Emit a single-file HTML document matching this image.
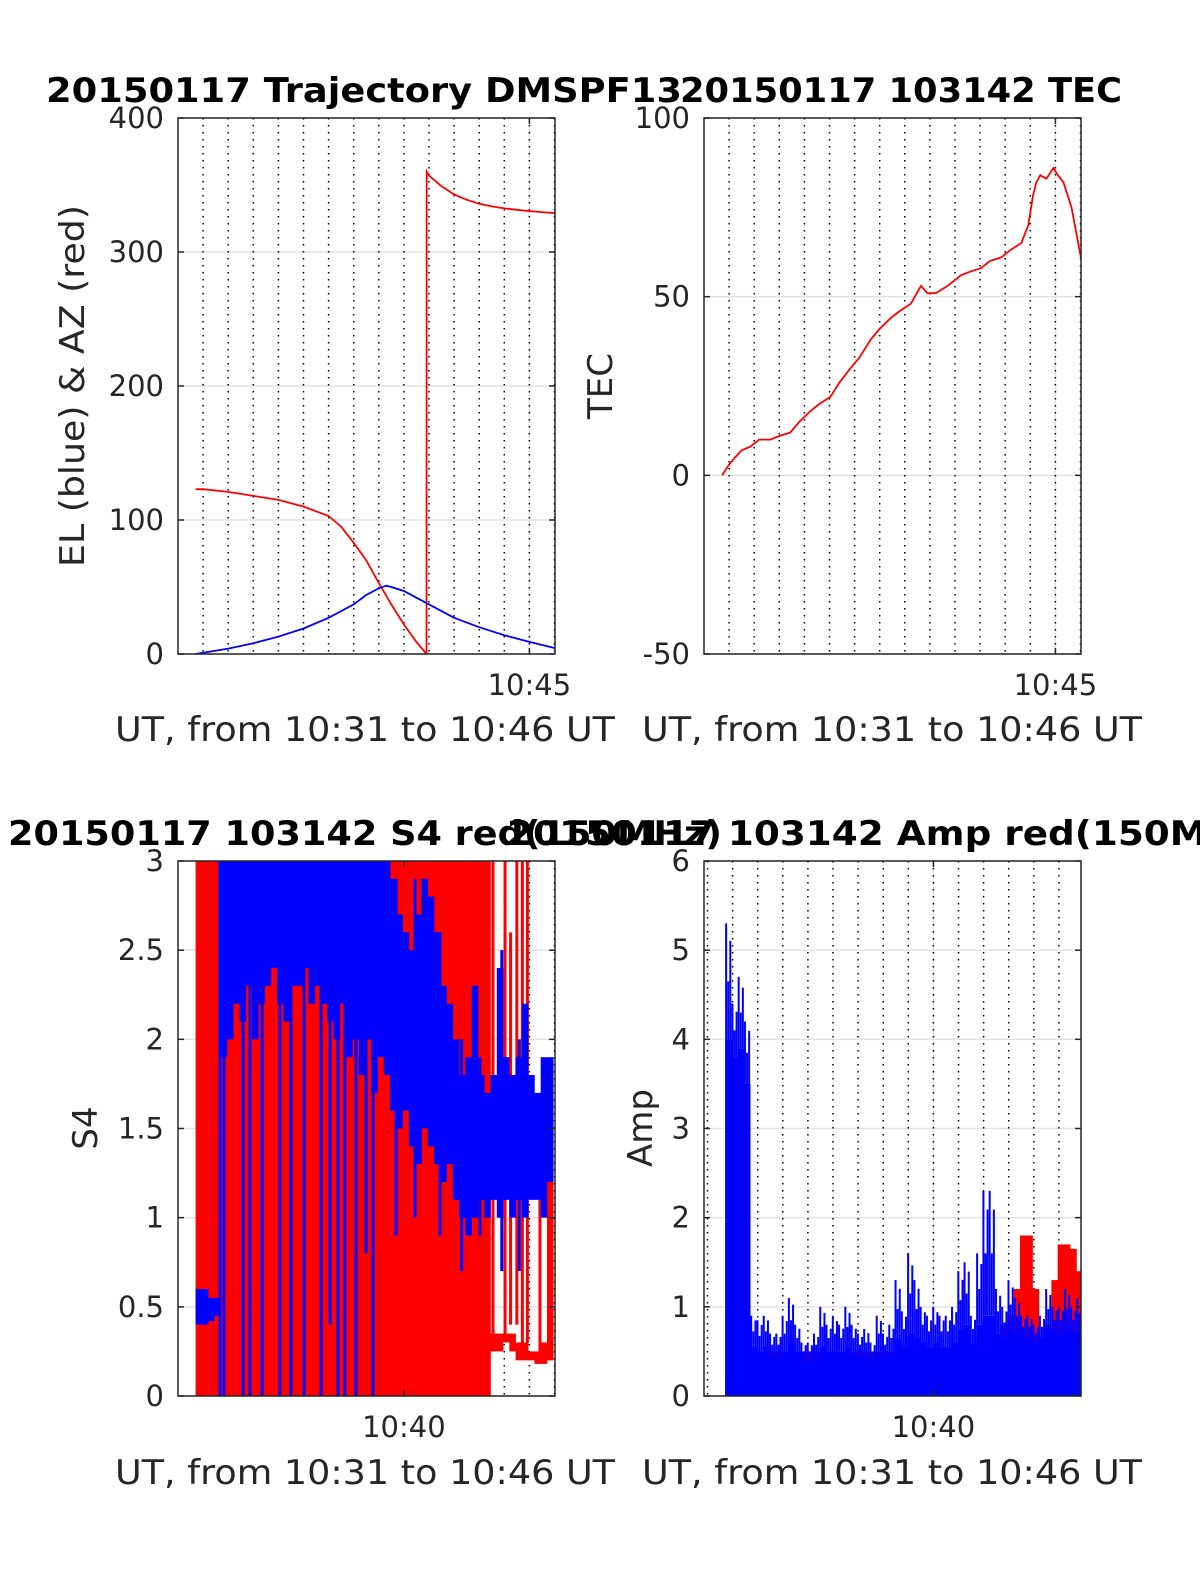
<!DOCTYPE html>
<html>
<head>
<meta charset="utf-8">
<style>
html,body{margin:0;padding:0;background:#fff;}
svg{display:block;font-family:"DejaVu Sans","Liberation Sans",sans-serif;}
</style>
</head>
<body>
<svg id="fig" width="1200" height="1575" viewBox="0 0 1200 1575" xmlns="http://www.w3.org/2000/svg">
<rect x="0" y="0" width="1200" height="1575" fill="#fff"/>
</svg>
<script>
// ---- Trajectory data (minutes after 10:00) ----
const azTimes = [31.7,32,33,34,35,36,37,37.5,38,38.5,39,39.5,40,40.5,40.9,40.91,41,41.5,42,42.5,43,43.5,44,44.5,45,46];
const azValues = [123,123,121,118,115,110,103,95,83,70,53,37,22,9,0,360,357,349,343,339,336,334,332.5,331.5,330.5,329];
const elTimes = [31.7,33,34,35,36,37,38,38.5,39,39.3,39.5,40,40.5,41,41.5,42,43,44,45,46];
const elValues = [0,4,8,13,19,27,37,44,49,51,50,47,42,37,32,27,20,14,9,4.5];
// ---- TEC ----
const tecTimes = [31.72,32.0,32.24,32.5,32.84,33.2,33.64,34.0,34.44,34.8,35.24,35.6,36.04,36.4,36.84,37.2,37.64,38.0,38.44,38.8,39.24,39.64,39.9,40.24,40.7,41.24,41.6,42.04,42.4,42.84,43.2,43.64,43.92,44.1,44.24,44.4,44.64,44.92,45.1,45.32,45.64,46.04];
const tecValues = [0,3,5,7,8,10,10,11,12,15,18,20,22,26,30,33,38,41,44,46,48,53,51,51,53,56,57,58,60,61,63,65,70,78,82,84,83,86,84,82,75,60];
// ---- S4 / Amp binned envelopes (bin start t0, width dt) ----
const binStart = 31.7;
const binWidth = 0.25;
const s4RedMax = [3,3,3,3,3,3,3,3,3,3,3,3,3,3,3,3,3,3,3,3,3,3,3,3,3,3,3,3,3,3,3,3,3,3,3,3,3,3,3,3,3,3,3,3,3,3,3,0.35,0.35,0.35,0.35,0.3,0.3,0.25,0.25,0.3,1.6];
const s4RedMin = [0,0,0,0,0,0,0,0,0,0,0,0,0,0,0,0,0,0,0,0,0,0,0,0,0,0,0,0,0,0,0,0,0,0,0,0,0,0,0,0,0,0,0,0,0,0,0,0.25,0.25,0.3,0.25,0.2,0.2,0.2,0.18,0.18,0.2];
const s4BlueMax = [0.6,0.6,0.55,0.55,3,3,3,3,3,3,3,3,3,3,3,3,3,3,3,3,3,3,3,3,3,3,3,3,3,3,3,2.9,2.7,2.6,2.5,2.7,2.9,2.8,2.6,2.3,2.2,2.0,1.8,1.9,2.3,1.8,1.7,1.8,2.4,1.9,1.8,1.9,2.2,1.8,1.7,1.9,1.9];
const s4BlueMin = [0.4,0.4,0.42,0.45,1.9,2.0,2.2,2.1,2.3,2.0,2.2,2.3,2.4,2.2,2.1,2.3,2.3,2.4,2.2,2.3,2.2,2.1,2.0,2.2,1.9,2.0,1.8,2.0,1.7,1.9,1.8,1.6,1.5,1.6,1.4,1.3,1.5,1.4,1.3,1.2,1.3,1.1,1.0,0.9,1.0,1.1,1.0,1.1,1.0,1.1,1.0,1.1,1.0,1.1,1.1,1.0,1.2];
// individual spikes: time, low, high
const s4RedSpikeT = [43.55,44.03,44.25,44.5,44.72,44.92,45.42,45.8];
const s4RedSpikeLo = [0.3,0.3,0.4,0.4,0.3,0.3,0.2,0.2];
const s4RedSpikeHi = [3,3,2.6,3,3,3,1.4,1.7];
const s4BlueSpikeT = [32.67,32.83,33.59,33.87,34.35,35.06,35.5,36.02,36.7,37.06,37.37,37.65,38.09,38.49,38.77,39.69,40.44,41.44,42.3,43.03,43.9,44.6];
const s4BlueSpikeLo = [0,0,0,0,0,0,0,0,0,0.4,0,0,0,0.8,0,0.9,1.0,0.9,0.7,0.9,0.7,0.7];
const s4BlueSpikeHi = [3,3,3,3,3,3,3,3,3,3,3,3,3,3,3,2.9,2.9,2.6,2.0,1.9,2.5,2.0];
const ampBlueMax = [5.3,4.4,4.7,4.2,0.9,0.85,0.9,0.7,0.7,0.9,1.1,0.8,0.6,0.6,0.7,1.0,0.8,0.9,0.8,1.0,0.8,0.7,0.75,0.6,0.9,0.7,0.8,1.3,0.95,1.6,1.3,1.0,0.9,1.0,0.9,0.9,1.0,1.4,1.5,0.9,1.6,2.3,2.3,1.2,1.0,1.3,1.1,0.9,0.9,0.8,0.9,1.2,1.0,1.0,1.2,1.0,1.1];
const ampBlueMin = [0,0,0,0,0,0,0,0,0,0,0,0,0,0,0,0,0,0,0,0,0,0,0,0,0,0,0,0,0,0,0,0,0,0,0,0,0,0,0,0,0,0,0,0,0,0,0,0,0,0,0,0,0,0,0,0,0];
const ampBlueCore = [4.0,3.8,3.9,3.5,0.55,0.5,0.55,0.45,0.45,0.5,0.6,0.5,0.4,0.4,0.45,0.55,0.5,0.5,0.5,0.55,0.5,0.45,0.45,0.4,0.5,0.45,0.5,0.65,0.55,0.7,0.65,0.6,0.55,0.6,0.55,0.55,0.6,0.75,0.8,0.6,0.8,0.9,0.9,0.7,0.65,0.75,0.7,0.65,0.65,0.6,0.65,0.75,0.7,0.7,0.75,0.7,0.75];
const ampRedMax = [0.15,0.12,0.15,0.1,0.5,0.5,0.5,0.5,0.5,0.5,0.5,0.5,0.5,0.5,0.5,0.5,0.5,0.5,0.5,0.5,0.5,0.5,0.5,0.5,0.5,0.5,0.5,0.5,0.5,0.5,0.5,0.5,0.5,0.5,0.5,0.5,0.5,0.5,0.5,0.5,0.5,0.5,0.5,0.5,0.8,0.9,1.2,1.8,1.8,1.2,0.6,0.8,1.3,1.7,1.7,1.65,1.4];
const ampRedMin = [0,0,0,0,0,0,0,0,0,0,0,0,0,0,0,0,0,0,0,0,0,0,0,0,0,0,0,0,0,0,0,0,0,0,0,0,0,0,0,0,0,0,0,0,0,0,0,0,0,0,0,0,0,0,0,0,0];
// ---- tick labels ----
const yTicks1 = [0,100,200,300,400];
const yTicks2 = [-50,0,50,100];
const yTicks3 = [0,0.5,1,1.5,2,2.5,3];
const yTicks4 = [0,1,2,3,4,5,6];

const NS = "http://www.w3.org/2000/svg";
const svg = document.getElementById('fig');
function mk(tag, attrs, parent){
  const e = document.createElementNS(NS, tag);
  for (const k in attrs) e.setAttribute(k, attrs[k]);
  (parent||svg).appendChild(e);
  return e;
}
function makePanel(id, L, T, R, B, xmin, xmax, ymin, ymax){
  const g = mk('g', {});
  
  
  const cp = mk('clipPath', {id: id+'-clip'}, g);
  mk('rect', {x:L, y:T, width:R-L, height:B-T}, cp);
  return {g, L, T, R, B,
    X: t => L + (t - xmin) / (xmax - xmin) * (R - L),
    Y: v => B - (v - ymin) / (ymax - ymin) * (B - T), xmin, xmax, id};
}
function drawGrid(p, yTicks, labelFmt, xTickMin, xTickLabel){
  const gg = mk('g', {}, p.g);
  
  
  for (const v of yTicks){
    const y = p.Y(v);
    const ln = mk('line', {x1:p.L, x2:p.R, y1:y, y2:y, stroke:'#e3e3e3', 'stroke-width':1.5}, gg);
    
    
  }
  const xg = p.X(xTickMin);
  const gx = mk('line', {x1:xg, x2:xg, y1:p.T, y2:p.B, stroke:'#e3e3e3', 'stroke-width':1.5}, gg);
  
  
  for (let m = Math.ceil(p.xmin); m < p.xmax; m++){
    const x = p.X(m);
    if (x <= p.L + 1) continue;
    const d = mk('line', {x1:x, x2:x, y1:p.T, y2:p.B, stroke:'#000', 'stroke-width':1.5, 'stroke-dasharray':'1.5 5.5'}, gg);
    
    
  }
  for (const v of yTicks){
    const t = mk('text', {x:p.L-14, y:p.Y(v)+10, 'text-anchor':'end', 'font-size':29, fill:'#262626'}, p.g);
    t.textContent = labelFmt(v);
    
    
  }
  const xt = mk('text', {x:xg, y:p.B+41, 'text-anchor':'middle', 'font-size':29, fill:'#262626'}, p.g);
  xt.textContent = xTickLabel;
  
  
}
function drawFrame(p, yTicks, xTickMin){
  const f = mk('rect', {x:p.L, y:p.T, width:p.R-p.L, height:p.B-p.T, fill:'none', stroke:'#262626', 'stroke-width':1.5}, p.g);
  
  
  for (const v of yTicks){
    const y = p.Y(v);
    mk('line', {x1:p.L, x2:p.L+6, y1:y, y2:y, stroke:'#262626', 'stroke-width':1.5}, p.g);
    mk('line', {x1:p.R-6, x2:p.R, y1:y, y2:y, stroke:'#262626', 'stroke-width':1.5}, p.g);
  }
  const x = p.X(xTickMin);
  mk('line', {x1:x, x2:x, y1:p.B-6, y2:p.B, stroke:'#262626', 'stroke-width':1.5}, p.g);
  mk('line', {x1:x, x2:x, y1:p.T, y2:p.T+6, stroke:'#262626', 'stroke-width':1.5}, p.g);
}
function polyline(p, ts, vs, color, name){
  const pts = ts.map((t,i) => p.X(t).toFixed(1) + ',' + p.Y(vs[i]).toFixed(1)).join(' ');
  const pl = mk('polyline', {points:pts, fill:'none', stroke:color, 'stroke-width':1.8, 'clip-path':'url(#'+p.id+'-clip)'}, p.g);
  
  
}
function bands(p, mins, maxs, color, name){
  const g = mk('g', {'clip-path':'url(#'+p.id+'-clip)'}, p.g);
  
  
  for (let i = 0; i < maxs.length; i++){
    const t = binStart + i * binWidth;
    const x1 = p.X(t), x2 = p.X(t + binWidth);
    const y1 = p.Y(maxs[i]), y2 = p.Y(mins[i]);
    const r = mk('rect', {x:x1, y:y1, width:x2-x1+0.3, height:Math.max(1.5, y2-y1), fill:color}, g);
    
    
  }
}
// spiky envelope: zigzag between core level and max within each bin
function spikyBands(p, mins, cores, maxs, color, name){
  const g = mk('g', {'clip-path':'url(#'+p.id+'-clip)'}, p.g);
  
  
  for (let i = 0; i < maxs.length; i++){
    const t = binStart + i * binWidth;
    const x1 = p.X(t), x2 = p.X(t + binWidth);
    const r = mk('rect', {x:x1, y:p.Y(cores[i]), width:x2-x1+0.3, height:p.Y(mins[i])-p.Y(cores[i]), fill:color}, g);
    
    
    const hs = [maxs[i], (maxs[i]+cores[i])/2, maxs[i]*0.85+cores[i]*0.15];
    for (let k = 0; k < 3; k++){
      const xx = x1 + (k + 0.5) * (x2 - x1) / 3;
      const s = mk('line', {x1:xx, x2:xx, y1:p.Y(cores[i]), y2:p.Y(hs[k]), stroke:color, 'stroke-width':2}, g);
      
      
    }
  }
}
function spikes(p, ts, lo, hi, color, name){
  const g = mk('g', {'clip-path':'url(#'+p.id+'-clip)'}, p.g);
  
  
  for (let i = 0; i < ts.length; i++){
    const x = p.X(ts[i]);
    const s = mk('line', {x1:x, x2:x, y1:p.Y(hi[i]), y2:p.Y(lo[i]), stroke:color, 'stroke-width':3}, g);
    
    
  }
}
function text(x, y, s, size, opts, name){
  const a = Object.assign({x:x, y:y, 'font-size':size, fill:'#262626', 'text-anchor':'middle'}, opts||{});
  const t = mk('text', a);
  t.textContent = s;
  
  
  return t;
}
const fmt = v => String(v);

// Panel 1
const p1 = makePanel('trajectory', 178, 118, 555, 654, 31, 46.02, 0, 400);
drawGrid(p1, yTicks1, fmt, 45, '10:45');
polyline(p1, azTimes, azValues, '#ff0000', 'az-line');
polyline(p1, elTimes, elValues, '#0000ff', 'el-line');
drawFrame(p1, yTicks1, 45);
// Panel 2
const p2 = makePanel('tec', 704, 118, 1081, 654, 31, 46.02, -50, 100);
drawGrid(p2, yTicks2, fmt, 45, '10:45');
polyline(p2, tecTimes, tecValues, '#ff0000', 'tec-line');
drawFrame(p2, yTicks2, 45);
// Panel 3
const p3 = makePanel('s4', 178, 861, 555, 1396, 31, 46.02, 0, 3);
drawGrid(p3, yTicks3, fmt, 40, '10:40');
bands(p3, s4RedMin, s4RedMax, '#ff0000', 's4-red-series');
spikes(p3, s4RedSpikeT, s4RedSpikeLo, s4RedSpikeHi, '#ff0000', 's4-red-spikes');
bands(p3, s4BlueMin, s4BlueMax, '#0000ff', 's4-blue-series');
spikes(p3, s4BlueSpikeT, s4BlueSpikeLo, s4BlueSpikeHi, '#0000ff', 's4-blue-spikes');
drawFrame(p3, yTicks3, 40);
// Panel 4
const p4 = makePanel('amp', 704, 861, 1081, 1396, 30.86, 45.88, 0, 6);
drawGrid(p4, yTicks4, fmt, 40, '10:40');
bands(p4, ampRedMin, ampRedMax, '#ff0000', 'amp-red-series');
spikyBands(p4, ampBlueMin, ampBlueCore, ampBlueMax, '#0000ff', 'amp-blue-series');
drawFrame(p4, yTicks4, 40);

// Titles
text(364, 102, '20150117 Trajectory DMSPF13', 34, {'font-weight':'bold', fill:'#000', textLength:636, lengthAdjust:'spacingAndGlyphs'}, 'trajectory-title');
text(901, 102, '20150117 103142 TEC', 34, {'font-weight':'bold', fill:'#000', textLength:442, lengthAdjust:'spacingAndGlyphs'}, 'tec-title');
text(365, 845, '20150117 103142 S4 red(150MHz)', 34, {'font-weight':'bold', fill:'#000', textLength:714, lengthAdjust:'spacingAndGlyphs'}, 's4-title');
text(892, 845, '20150117 103142 Amp red(150MHz)', 34, {'font-weight':'bold', fill:'#000', textLength:770, lengthAdjust:'spacingAndGlyphs'}, 'amp-title');
// X labels
text(365, 741, 'UT, from 10:31 to 10:46 UT', 34, {textLength:500, lengthAdjust:'spacingAndGlyphs'}, 'trajectory-x-axis-title');
text(892, 741, 'UT, from 10:31 to 10:46 UT', 34, {textLength:500, lengthAdjust:'spacingAndGlyphs'}, 'tec-x-axis-title');
text(365, 1484, 'UT, from 10:31 to 10:46 UT', 34, {textLength:500, lengthAdjust:'spacingAndGlyphs'}, 's4-x-axis-title');
text(892, 1484, 'UT, from 10:31 to 10:46 UT', 34, {textLength:500, lengthAdjust:'spacingAndGlyphs'}, 'amp-x-axis-title');
// Y labels
text(84, 386, 'EL (blue) & AZ (red)', 34, {transform:'rotate(-90 84 386)', textLength:362, lengthAdjust:'spacingAndGlyphs'}, 'trajectory-y-axis-title');
text(612, 386, 'TEC', 34, {transform:'rotate(-90 612 386)'}, 'tec-y-axis-title');
text(97, 1128, 'S4', 34, {transform:'rotate(-90 97 1128)'}, 's4-y-axis-title');
text(652, 1128, 'Amp', 34, {transform:'rotate(-90 652 1128)'}, 'amp-y-axis-title');
</script>
</body>
</html>
